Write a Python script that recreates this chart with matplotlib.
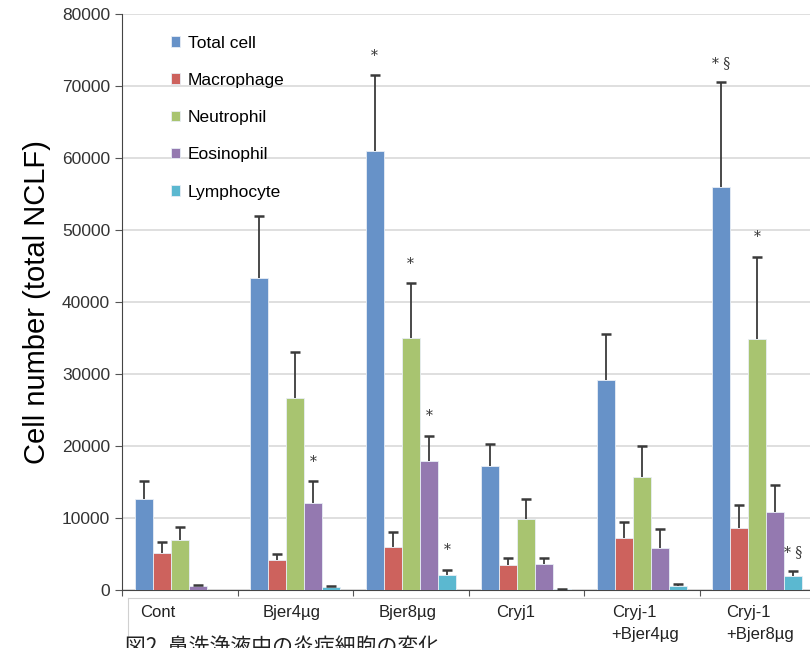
import numpy as np
import matplotlib.pyplot as plt
from matplotlib.lines import Line2D

plt.rcParams['font.family'] = ['Liberation Sans', 'DejaVu Sans']

# Data
groups = ['Cont', 'Bjer4µg', 'Bjer8µg', 'Cryj1', 'Cryj-1\n+Bjer4µg', 'Cryj-1\n+Bjer8µg']
series = ['Total cell', 'Macrophage', 'Neutrophil', 'Eosinophil', 'Lymphocyte']
means = [
    [12600, 43300, 61000, 17200, 29200, 56000],   # Total cell
    [5100, 4100, 6000, 3500, 7200, 8600],         # Macrophage
    [6900, 26700, 35000, 9900, 15700, 34800],     # Neutrophil
    [500, 12100, 17900, 3600, 5800, 10800],       # Eosinophil
    [0, 400, 2100, 80, 500, 1900],                # Lymphocyte
]
errs = [
    [2500, 8700, 10500, 3100, 6300, 14500],
    [1600, 900, 2100, 900, 2300, 3200],
    [1900, 6300, 7600, 2800, 4300, 11500],
    [200, 3000, 3500, 800, 2700, 3800],
    [0, 200, 700, 120, 400, 700],
]
# significance marks: (group index, series index, text)
marks = [(1, 3, '*'), (2, 0, '*'), (2, 2, '*'), (2, 3, '*'), (2, 4, '*'),
         (5, 0, '* §'), (5, 2, '*'), (5, 4, '* §')]

colors = ['#6792c8', '#cd625d', '#a8c470', '#9479b0', '#5bb8d0']

fig = plt.figure(figsize=(8.1, 6.48), dpi=100)
ax = fig.add_axes([122 / 810, 58 / 648, 693 / 810, 576 / 648])

bar_w = 0.156
x = np.arange(len(groups))
for i, name in enumerate(series):
    xs = x + 0.11 + bar_w * (i + 0.5)
    m = np.array(means[i])
    e = np.array(errs[i])
    ax.bar(xs, m, bar_w, color=colors[i], edgecolor='#e8eef5',
           linewidth=0.6, label=name, zorder=3)
    has = e > 0
    ax.vlines(xs[has], m[has], m[has] + e[has], color='#3a3a3a', lw=1.3, zorder=4)
    ax.plot(xs[has], m[has] + e[has], ls='none', marker='_', ms=7, mew=1.8,
            color='#3a3a3a', zorder=4)

for g, s, txt in marks:
    xs = g + 0.11 + bar_w * (s + 0.5)
    ax.annotate(txt, (xs, means[s][g] + errs[s][g]), xytext=(0, 9),
                textcoords='offset points', ha='center', va='bottom',
                fontsize=10, family='DejaVu Serif', color='#333333')

ax.set_xlim(0, len(groups))
ax.set_ylim(0, 80000)
ax.set_yticks(np.arange(0, 80001, 10000))
ax.tick_params(axis='y', direction='out', length=5, labelsize=12.5,
               labelcolor='#333333', color='#555555')
ax.yaxis.grid(True, color='#d9d9d9', linewidth=1.2, zorder=0)

ax.set_xticks(np.arange(len(groups) + 1))
ax.set_xticklabels([])
ax.tick_params(axis='x', which='major', direction='out', length=4, color='#555555')
ax.set_xticks(x + np.array([0.16, 0.22, 0.22, 0.24, 0.24, 0.23]), minor=True)
ax.set_xticklabels(groups, minor=True, ha='left', va='top', linespacing=1.55,
                   family=['Liberation Sans Narrow', 'Liberation Sans'],
                   fontsize=12, color='#222222')
ax.tick_params(axis='x', which='minor', length=0, pad=11)

for side in ['top', 'right']:
    ax.spines[side].set_visible(False)
ax.spines['left'].set_color('#444444')
ax.spines['bottom'].set_color('#444444')

ax.set_ylabel('Cell number (total NCLF)', fontsize=21, labelpad=8)

ax.legend(loc='upper left', bbox_to_anchor=(155 / 810, 1 - 20 / 648),
          bbox_transform=fig.transFigure, frameon=False, fontsize=12.5,
          labelspacing=1.28, handlelength=0.55, handleheight=0.55,
          handletextpad=0.45)

# plot-area border under the x axis
fig.add_artist(Line2D([128 / 810, 128 / 810], [0, 50 / 648], color='#d0d0d0', lw=0.8))
fig.add_artist(Line2D([128 / 810, 1], [50 / 648, 50 / 648], color='#d0d0d0', lw=0.8))

fig.text(125 / 810, 12 / 648, '図2. 鼻洗浄液中の炎症細胞の変化', va='top', ha='left',
         fontsize=15, family=['Noto Sans CJK JP', 'DejaVu Sans'], color='#222222')

fig.savefig('out.png', dpi=100)
